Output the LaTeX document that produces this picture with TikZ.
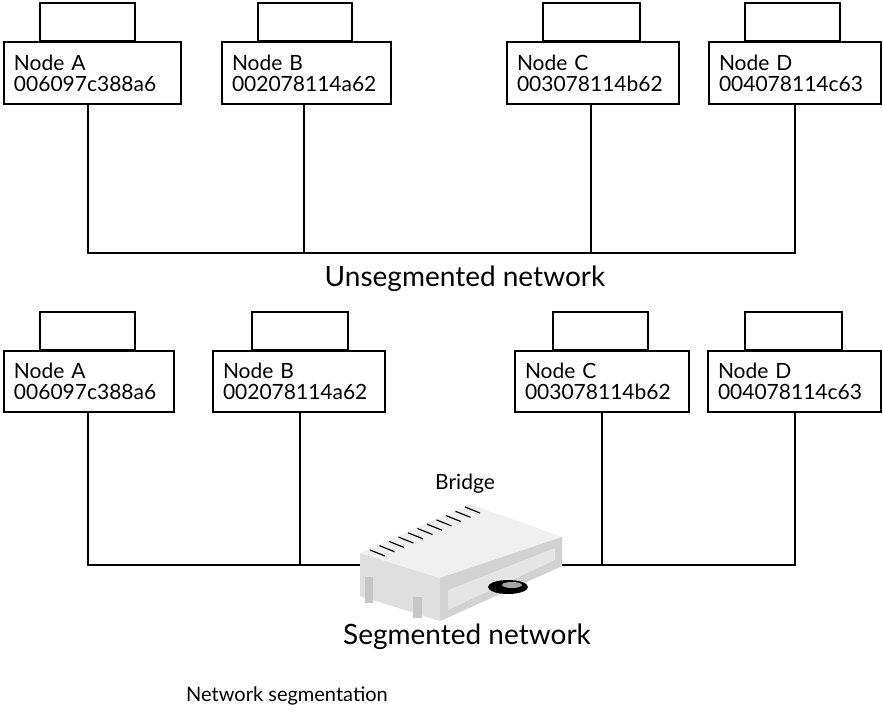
\documentclass[tikz,border=0pt]{standalone}
\usepackage{fontspec}
\setmainfont{Lato}
\begin{document}
\begin{tikzpicture}[x=1pt,y=-1pt,line width=2pt,
  box/.style={draw,fill=white,minimum height=62pt,inner sep=0pt,anchor=north west,align=left,font=\fontsize{21}{23}\selectfont},
  lbl/.style={font=\fontsize{28}{30}\selectfont},
  edge/.style={line width=1.8pt}]
\useasboundingbox (0,0) rectangle (883,714);
% top row
\foreach \n/\x/\w/\hx/\hw/\t in {A/3/177/40/95/006097c388a6, B/221/169/258/94/002078114a62, C/506/172/543/97/003078114b62, D/708/172/745/95/004078114c63}{
  \draw[edge] (\hx,3) rectangle (\hx+\hw,41);
  \node[box,minimum width=\w pt,text width=\w pt-10pt] (t\n) at (\x,41) {\hspace*{5pt}\kern0pt Node \n\\[-2pt]\hspace*{5pt}\t};
}
\node[lbl] (un) at (465,279) {Unsegmented network};
\coordinate (ta) at (88,253); \coordinate (tb) at (304,253);
\coordinate (tc) at (591,253); \coordinate (td) at (795,253);
\draw[edge] (88,103) -- (ta) -- (td) -- (795,103);
\draw[edge] (304,103) -- (tb); \draw[edge] (591,103) -- (tc);
% bottom row
\foreach \n/\x/\w/\hx/\hw/\t in {A/3/170/40/95/006097c388a6, B/212/172/252/96/002078114a62, C/514/174/553/95/003078114b62, D/707/173/745/97/004078114c63}{
  \draw[edge] (\hx,312) rectangle (\hx+\hw,350);
  \node[box,minimum width=\w pt,minimum height=61pt,text width=\w pt-10pt] (b\n) at (\x,350) {\hspace*{5pt}Node \n\\[-2pt]\hspace*{5pt}\t};
}
\coordinate (ba) at (88,565); \coordinate (bb) at (300,565);
\coordinate (bc) at (602,565); \coordinate (bd) at (795,565);
\draw[edge] (88,411) -- (ba) -- (375,565);
\draw[edge] (300,411) -- (bb);
\draw[edge] (560,565) -- (bd) -- (795,411);
\draw[edge] (602,411) -- (bc);
% bridge
\begin{scope}[line width=0.6pt]
\fill[gray!25] (360,553) -- (440,578) -- (562,537) -- (562,566) -- (440,621) -- (360,596) -- cycle;
\fill[gray!12] (360,553) -- (470,504) -- (562,537) -- (440,578) -- cycle;
\fill[gray!35] (440,578) -- (562,537) -- (562,566) -- (440,621) -- cycle;
\fill[gray!20] (448,590) -- (555,548) -- (555,560) -- (448,610) -- cycle;
\fill[gray!45] (365,577) rectangle (373,603);
\fill[gray!45] (413,597) rectangle (422,618);
\fill[black] (508,587) ellipse (20pt and 7pt);
\fill[gray!70] (512,585) ellipse (10pt and 3pt);
\foreach \i in {0,...,10}{
  \draw[line width=1.2pt] ({370+\i*9.5},{550-\i*4.3}) -- ({385+\i*9.5},{556-\i*4.3});
}
\end{scope}
\node[font=\fontsize{21}{23}\selectfont] (br) at (465,484) {Bridge};
\node[lbl] (sn) at (467,637) {Segmented network};
\node[font=\fontsize{20}{22}\selectfont] (cap) at (287,696) {Network segmentation};
\end{tikzpicture}
\end{document}
